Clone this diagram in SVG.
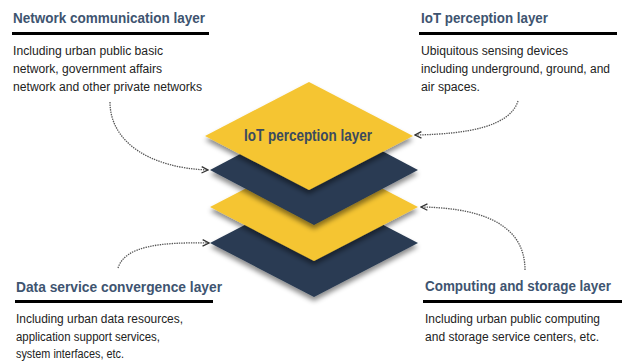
<svg xmlns="http://www.w3.org/2000/svg" width="622" height="362" viewBox="0 0 622 362">
  <defs>
    <filter id="drop" x="-20%" y="-20%" width="140%" height="160%">
      <feDropShadow dx="0" dy="4" stdDeviation="2.5" flood-color="#000" flood-opacity="0.45"/>
    </filter>
    <marker id="chev" viewBox="0 0 10 10" refX="9" refY="5" markerWidth="8" markerHeight="8" markerUnits="userSpaceOnUse" orient="auto">
      <path d="M1,1 L9,5 L1,9" fill="none" stroke="#333" stroke-width="1.6"/>
    </marker>
  </defs>
  <style>
    .yellow { fill: #F5C533; filter: url(#drop); }
    .navy { fill: #293B52; filter: url(#drop); }
    .head { font-family: "Liberation Sans", Arial, sans-serif; font-weight: bold; font-size: 14px; fill: #3E5470; }
    .body { font-family: "Liberation Sans", Arial, sans-serif; font-size: 12px; fill: #222; }
    .rule { stroke: #000; stroke-width: 3; }
    .link { fill: none; stroke: #555; stroke-width: 1.3; stroke-dasharray: 1.4 1; marker-end: url(#chev); }
    .inner { font-family: "Liberation Sans", Arial, sans-serif; font-weight: bold; font-size: 16px; fill: #3B4A5E; }
  </style>

  <!-- stacked layers, drawn bottom to top -->
  <g id="layer-compute-base">
    <polygon class="navy" points="314,189 418,243 314,297 210,243"/>
  </g>
  <g id="layer-compute">
    <polygon class="yellow" points="314,153 418,207 314,261 210,207"/>
  </g>
  <g id="layer-network">
    <polygon class="navy" points="314,115 418,170 314,225 210,170"/>
  </g>
  <g id="layer-iot">
    <polygon class="yellow" points="309,82 413,136 309,190 205,136"/>
    <text class="inner" x="308" y="141" text-anchor="middle" textLength="128" lengthAdjust="spacingAndGlyphs">IoT perception layer</text>
  </g>

  <!-- side captions -->
  <g id="network-caption">
    <text class="head" x="13" y="23" textLength="192" lengthAdjust="spacingAndGlyphs">Network communication layer</text>
    <line class="rule" x1="12" y1="33.5" x2="209" y2="33.5"/>
    <text class="body" x="13" y="55" textLength="150" lengthAdjust="spacingAndGlyphs">Including urban public basic</text>
    <text class="body" x="13" y="73" textLength="149" lengthAdjust="spacingAndGlyphs">network, government affairs</text>
    <text class="body" x="13" y="91" textLength="189" lengthAdjust="spacingAndGlyphs">network and other private networks</text>
  </g>
  <g id="iot-caption">
    <text class="head" x="421" y="23" textLength="127" lengthAdjust="spacingAndGlyphs">IoT perception layer</text>
    <line class="rule" x1="419" y1="33.5" x2="617" y2="33.5"/>
    <text class="body" x="421" y="55" textLength="147" lengthAdjust="spacingAndGlyphs">Ubiquitous sensing devices</text>
    <text class="body" x="421" y="73" textLength="189" lengthAdjust="spacingAndGlyphs">including underground, ground, and</text>
    <text class="body" x="421" y="91" textLength="59" lengthAdjust="spacingAndGlyphs">air spaces.</text>
  </g>
  <g id="data-caption">
    <text class="head" x="16" y="292" textLength="206" lengthAdjust="spacingAndGlyphs">Data service convergence layer</text>
    <line class="rule" x1="15" y1="301.5" x2="213" y2="301.5"/>
    <text class="body" x="16" y="323" textLength="167" lengthAdjust="spacingAndGlyphs">Including urban data resources,</text>
    <text class="body" x="16" y="341" textLength="144" lengthAdjust="spacingAndGlyphs">application support services,</text>
    <text class="body" x="16" y="358" textLength="108" lengthAdjust="spacingAndGlyphs">system interfaces, etc.</text>
  </g>
  <g id="compute-caption">
    <text class="head" x="425" y="291" textLength="186" lengthAdjust="spacingAndGlyphs">Computing and storage layer</text>
    <line class="rule" x1="423" y1="301.5" x2="622" y2="301.5"/>
    <text class="body" x="425" y="323" textLength="175" lengthAdjust="spacingAndGlyphs">Including urban public computing</text>
    <text class="body" x="425" y="341" textLength="174" lengthAdjust="spacingAndGlyphs">and storage service centers, etc.</text>
  </g>

  <!-- dotted leader lines -->
  <g id="connectors">
    <path class="link" d="M110,102 C110,142 150,168 208,170"/>
    <path class="link" d="M518,101 C510,126 470,134 415,135"/>
    <path class="link" d="M525,270 C525,230 492,208 421,207"/>
    <path class="link" d="M118,268 C125,246 160,242 209,243"/>
  </g>
</svg>
